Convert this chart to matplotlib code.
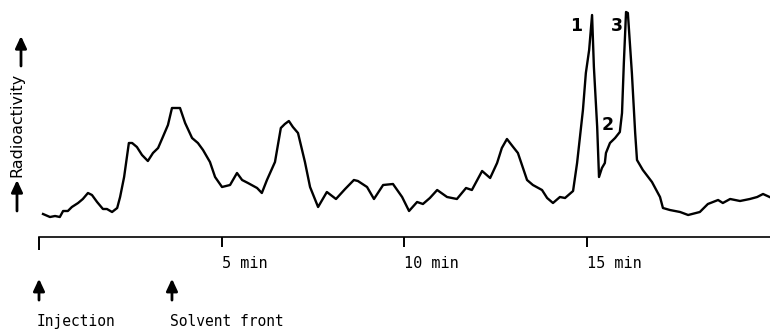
import matplotlib
matplotlib.use("Agg")
import matplotlib.pyplot as plt
from matplotlib.patches import FancyArrowPatch

# Retention time (min) and radioactivity signal (arbitrary units)
time_min = [0.11, 0.30, 0.44, 0.57, 0.66, 0.79, 0.90, 1.07, 1.20, 1.34, 1.45, 1.59,
            1.75, 1.86, 2.00, 2.14, 2.22, 2.33, 2.46, 2.55, 2.68, 2.82, 2.98, 3.12,
            3.26, 3.39, 3.53, 3.64, 3.78, 3.86, 4.00, 4.19, 4.35, 4.49, 4.68, 4.82,
            5.01, 5.23, 5.42, 5.56, 5.72, 5.97, 6.10, 6.24, 6.46, 6.62, 6.73, 6.84,
            6.95, 7.09, 7.28, 7.42, 7.64, 7.88, 8.13, 8.38, 8.62, 8.73, 8.98, 9.17,
            9.42, 9.69, 9.94, 10.13, 10.35, 10.51, 10.70, 10.90, 11.17, 11.44, 11.69,
            11.85, 12.13, 12.35, 12.54, 12.67, 12.81, 12.98, 13.11, 13.36, 13.52,
            13.77, 13.91, 14.07, 14.26, 14.40, 14.62, 14.73, 14.89, 14.97, 15.06,
            15.14, 15.19, 15.28, 15.33, 15.41, 15.49, 15.52, 15.63, 15.77, 15.90,
            15.96, 16.01, 16.07, 16.12, 16.23, 16.32, 16.37, 16.53, 16.78, 17.00,
            17.08, 17.27, 17.55, 17.77, 18.09, 18.31, 18.59, 18.72, 18.92, 19.19,
            19.46, 19.66, 19.82, 20.00]
signal = [23, 20, 21, 20, 26, 26, 30, 34, 38, 44, 42, 35,
          28, 28, 25, 29, 40, 60, 94, 94, 90, 82, 76, 84,
          89, 100, 112, 129, 129, 129, 114, 99, 94, 87, 75, 60,
          50, 52, 64, 57, 54, 49, 44, 57, 75, 109, 113, 116,
          110, 104, 75, 50, 30, 45, 38, 48, 57, 56, 50, 38,
          52, 53, 40, 26, 35, 33, 39, 47, 40, 38, 49,
          47, 66, 59, 74, 89, 98, 90, 84, 57, 52,
          47, 39, 34, 40, 39, 46, 74, 127, 164, 187,
          222, 170, 110, 60, 69, 74, 84, 94, 99, 105,
          124, 174, 225, 224, 164, 104, 77, 67, 55, 40,
          29, 27, 25, 22, 25, 33, 37, 34, 38, 36,
          38, 40, 43, 40]

tick_pos = [0, 5, 10, 15]
tick_labels = ["", "5 min", "10 min", "15 min"]

peak_names = ["1", "2", "3"]
peak_time = [14.70, 15.58, 15.82]
peak_height = [211, 112, 211]

marker_names = ["Injection", "Solvent front"]
marker_time = [0.0, 3.64]

mono = "DejaVu Sans Mono"
arrow_style = "-|>,head_width=0.28,head_length=0.6"

fig = plt.figure(figsize=(7.7, 3.32), dpi=100)
ax = fig.add_axes([39 / 770, 95 / 332, 730.6 / 770, 232 / 332])
ax.plot(time_min, signal, color="black", lw=1.7, clip_on=False)
ax.set_xlim(0, 20)
ax.set_ylim(0, 232)

for s in ["top", "right", "left"]:
    ax.spines[s].set_visible(False)
ax.spines["bottom"].set_linewidth(1.2)
ax.set_yticks([])
ax.set_xticks(tick_pos)
ax.set_xticklabels(tick_labels, ha="left", fontsize=11, family=mono)
ax.tick_params(axis="x", direction="out", length=7, width=1.4, pad=7)
ax.xaxis.get_major_ticks()[0].tick1line.set_markersize(9.5)

for name, t, h in zip(peak_names, peak_time, peak_height):
    ax.text(t, h, name, ha="center", va="center", fontsize=12.5,
            fontweight="bold", family="DejaVu Sans")

tr = ax.get_xaxis_transform()
for name, t in zip(marker_names, marker_time):
    ax.annotate("", xy=(t, -0.18), xytext=(t, -0.272), xycoords=tr,
                textcoords=tr, annotation_clip=False,
                arrowprops=dict(arrowstyle=arrow_style, color="black", lw=2.0,
                                mutation_scale=12, shrinkA=0, shrinkB=0))
    ax.text(t - 0.06, -0.366, name, transform=tr, ha="left", va="center",
            fontsize=10.5, family=mono)

fig.text(17 / 770, (332 - 125) / 332, "Radioactivity", rotation=90,
         ha="center", va="center", fontsize=11.5, family="DejaVu Sans")
for x0, y_tail, y_head in [(21, 66, 36), (17, 211, 180)]:
    fig.add_artist(FancyArrowPatch(
        (x0 / 770, (332 - y_tail) / 332), (x0 / 770, (332 - y_head) / 332),
        transform=fig.transFigure, arrowstyle=arrow_style,
        color="black", lw=2.0, mutation_scale=12, shrinkA=0, shrinkB=0))

fig.savefig("out.png", dpi=100)
